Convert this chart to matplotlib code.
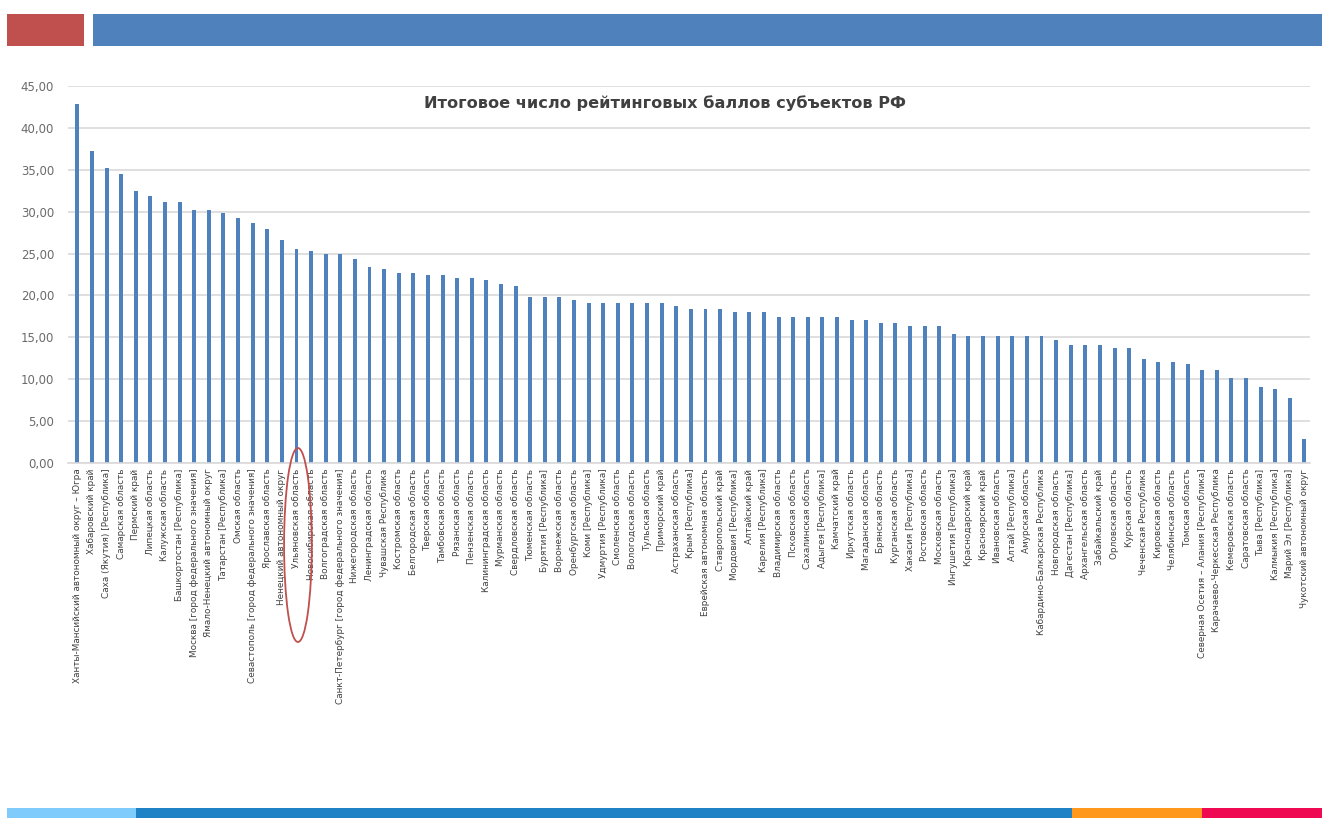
import matplotlib.pyplot as plt
import matplotlib.transforms as mtransforms
from matplotlib.patches import Ellipse, Rectangle
from matplotlib.ticker import FuncFormatter, MultipleLocator

regions = [
    "Ханты-Мансийский автономный округ – Югра",
    "Хабаровский край",
    "Саха (Якутия) [Республика]",
    "Самарская область",
    "Пермский край",
    "Липецкая область",
    "Калужская область",
    "Башкортостан [Республика]",
    "Москва [город федерального значения]",
    "Ямало-Ненецкий автономный округ",
    "Татарстан [Республика]",
    "Омская область",
    "Севастополь [город федерального значения]",
    "Ярославская область",
    "Ненецкий автономный округ",
    "Ульяновская область",
    "Новосибирская область",
    "Волгоградская область",
    "Санкт-Петербург [город федерального значения]",
    "Нижегородская область",
    "Ленинградская область",
    "Чувашская Республика",
    "Костромская область",
    "Белгородская область",
    "Тверская область",
    "Тамбовская область",
    "Рязанская область",
    "Пензенская область",
    "Калининградская область",
    "Мурманская область",
    "Свердловская область",
    "Тюменская область",
    "Бурятия [Республика]",
    "Воронежская область",
    "Оренбургская область",
    "Коми [Республика]",
    "Удмуртия [Республика]",
    "Смоленская область",
    "Вологодская область",
    "Тульская область",
    "Приморский край",
    "Астраханская область",
    "Крым [Республика]",
    "Еврейская автономная область",
    "Ставропольский край",
    "Мордовия [Республика]",
    "Алтайский край",
    "Карелия [Республика]",
    "Владимирская область",
    "Псковская область",
    "Сахалинская область",
    "Адыгея [Республика]",
    "Камчатский край",
    "Иркутская область",
    "Магаданская область",
    "Брянская область",
    "Курганская область",
    "Хакасия [Республика]",
    "Ростовская область",
    "Московская область",
    "Ингушетия [Республика]",
    "Краснодарский край",
    "Красноярский край",
    "Ивановская область",
    "Алтай [Республика]",
    "Амурская область",
    "Кабардино-Балкарская Республика",
    "Новгородская область",
    "Дагестан [Республика]",
    "Архангельская область",
    "Забайкальский край",
    "Орловская область",
    "Курская область",
    "Чеченская Республика",
    "Кировская область",
    "Челябинская область",
    "Томская область",
    "Северная Осетия – Алания [Республика]",
    "Карачаево-Черкесская Республика",
    "Кемеровская область",
    "Саратовская область",
    "Тыва [Республика]",
    "Калмыкия [Республика]",
    "Марий Эл [Республика]",
    "Чукотский автономный округ",
]

scores = [
    42.8, 37.2, 35.2, 34.5, 32.5, 31.9, 31.2, 31.2, 30.2, 30.2,
    29.9, 29.3, 28.6, 27.9, 26.6, 25.6, 25.3, 25.0, 25.0, 24.4,
    23.4, 23.1, 22.7, 22.7, 22.4, 22.4, 22.1, 22.1, 21.8, 21.4,
    21.1, 19.8, 19.8, 19.8, 19.4, 19.1, 19.1, 19.1, 19.1, 19.1,
    19.05, 18.7, 18.4, 18.4, 18.4, 18.05, 18.05, 18.05, 17.4, 17.4,
    17.4, 17.4, 17.4, 17.1, 17.1, 16.75, 16.75, 16.4, 16.4, 16.4,
    15.4, 15.1, 15.1, 15.1, 15.1, 15.1, 15.1, 14.7, 14.1, 14.1,
    14.1, 13.75, 13.75, 12.4, 12.1, 12.1, 11.8, 11.1, 11.1, 10.1,
    10.1, 9.1, 8.8, 7.8, 2.9,
]

title = "Итоговое число рейтинговых баллов субъектов РФ"
highlight = "Ульяновская область"

W, H = 1322, 818
fig = plt.figure(figsize=(W / 100, H / 100), dpi=100)
fig.patch.set_facecolor("white")

# slide decoration: top bars and bottom stripe
def px_rect(x0, y0, x1, y1, color):
    fig.patches.append(Rectangle((x0 / W, 1 - y1 / H), (x1 - x0) / W, (y1 - y0) / H,
                                 transform=fig.transFigure, color=color, lw=0, zorder=0))

px_rect(7, 14, 84, 46, "#C0504D")
px_rect(93, 14, 1322, 46, "#4F81BD")
px_rect(7, 808, 136, 818, "#7FCBFB")
px_rect(136, 808, 1072, 818, "#1F81C6")
px_rect(1072, 808, 1202, 818, "#FF981C")
px_rect(1202, 808, 1322, 818, "#EF0852")

ax = fig.add_axes([68 / W, 1 - 463 / H, (1310 - 68) / W, (463 - 86) / H])

x = list(range(len(regions)))
ax.bar(x, scores, width=0.27, color="#4F81BD", zorder=2)

ax.set_xlim(-0.64, len(regions) - 0.62)
ax.set_ylim(0, 45)
ax.yaxis.set_major_locator(MultipleLocator(5))
ax.yaxis.set_major_formatter(FuncFormatter(lambda v, _: f"{v:.2f}".replace(".", ",")))
ax.grid(axis="y", color="#D9D9D9", lw=1.2, zorder=0)

for side in ["top", "right", "left"]:
    ax.spines[side].set_visible(False)
ax.spines["bottom"].set_color("#D9D9D9")
ax.spines["bottom"].set_linewidth(1.2)

ax.tick_params(axis="y", length=0, labelsize=8.5, labelcolor="#6B6B6B", pad=10)
ax.tick_params(axis="x", length=0, pad=4)
ax.set_xticks(x)
ax.set_xticklabels(regions, rotation=90, fontsize=6.4, color="#404040", va="top", ha="center")

ax.text(0.481, 0.955, title, transform=ax.transAxes, ha="center", va="center",
        fontsize=11.6, fontweight="bold", color="#404040")

# red circle around the highlighted region label
idx = regions.index(highlight)
trans = mtransforms.blended_transform_factory(ax.transData, fig.transFigure)
ax.add_patch(Ellipse((idx + 0.1, 1 - 545 / H), 1.9, 194 / H, transform=trans,
                     fill=False, edgecolor="#C0504D", lw=1.3, clip_on=False, zorder=5))

fig.savefig("out.png", dpi=100)
